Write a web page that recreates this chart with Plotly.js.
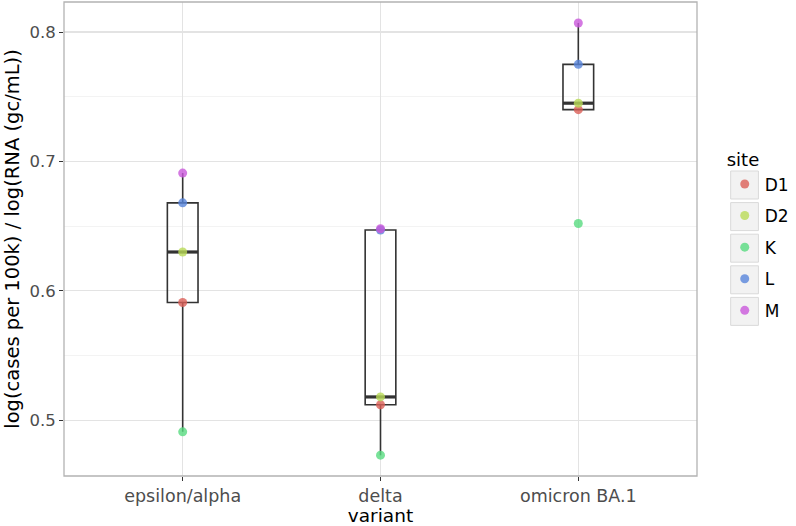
<!DOCTYPE html>
<html>
<head>
<meta charset="utf-8">
<script src="https://cdn.plot.ly/plotly-3.0.1.min.js"></script>
<style>html,body{margin:0;padding:0;background:#fff;}#chart{width:796px;height:526px;}</style>
</head>
<body>
<div id="chart"></div>
<script>
// ---- data ----
var variants = ['epsilon/alpha', 'delta', 'omicron BA.1'];
var sites = ['D1', 'D2', 'K', 'L', 'M'];
var siteColors = ['#db5f57', '#b9db57', '#57db80', '#5784db', '#c957db'];
var valD1 = [0.591, 0.512, 0.740];
var valD2 = [0.630, 0.518, 0.745];
var valK  = [0.491, 0.473, 0.652];
var valL  = [0.668, 0.647, 0.775];
var valM  = [0.691, 0.648, 0.807];
var yTicks = [0.5, 0.6, 0.7, 0.8];
var yTickLabels = ['0.5', '0.6', '0.7', '0.8'];

var siteValues = [valD1, valD2, valK, valL, valM];

// ---- layout helpers (pixel -> paper) ----
var W = 796, H = 526;
var M = {l: 64, r: 93, t: 2, b: 50};
var PW = W - M.l - M.r, PH = H - M.t - M.b;
function px(x) { return (x - M.l) / PW; }
function py(y) { return (H - M.b - y) / PH; }
var BOX_W = 0.155;

// box trace gathers all points
var boxX = [], boxY = [];
siteValues.forEach(function (vals) {
  vals.forEach(function (v, i) { boxX.push(variants[i]); boxY.push(v); });
});

// medians (derived from the data) for the thicker median bar, like ggplot
var medX = [], medY = [];
variants.forEach(function (vname, i) {
  var col = siteValues.map(function (vals) { return vals[i]; }).sort(function (a, b) { return a - b; });
  var n = col.length;
  var med = n % 2 ? col[(n - 1) / 2] : (col[n / 2 - 1] + col[n / 2]) / 2;
  medX.push(i - BOX_W / 2, i + BOX_W / 2, null);
  medY.push(med, med, null);
});

var traces = [{
  type: 'box',
  x: boxX, y: boxY,
  xaxis: 'x', yaxis: 'y',
  boxpoints: 'outliers',
  marker: {color: 'rgba(0,0,0,0)', size: 1, line: {width: 0}},
  quartilemethod: 'inclusive',
  fillcolor: 'rgba(255,255,255,0)',
  line: {color: '#333333', width: 1.6},
  whiskerwidth: 0,
  width: BOX_W,
  showlegend: false,
  hoverinfo: 'skip'
}, {
  type: 'scatter', mode: 'lines',
  x: medX, y: medY,
  xaxis: 'x2', yaxis: 'y',
  line: {color: '#333333', width: 3.2},
  showlegend: false, hoverinfo: 'skip', connectgaps: false
}];

sites.forEach(function (s, k) {
  traces.push({
    type: 'scatter', mode: 'markers',
    x: variants, y: siteValues[k],
    xaxis: 'x3', yaxis: 'y',
    name: s,
    legendgroup: s,
    marker: {color: siteColors[k], size: 9, opacity: 0.8},
    cliponaxis: false
  });
});

var keyShapes = [];
for (var k = 0; k < sites.length; k++) {
  var keyTop = 171 + k * 31.6;
  keyShapes.push({
    type: 'rect', xref: 'paper', yref: 'paper', layer: 'above',
    x0: px(737), x1: px(765), y0: py(keyTop), y1: py(keyTop + 28),
    fillcolor: '#f2f2f2', line: {color: '#d9d9d9', width: 1}
  });
}

var layout = {
  width: W, height: H,
  margin: M,
  paper_bgcolor: '#ffffff',
  plot_bgcolor: '#ffffff',
  font: {family: 'DejaVu Sans, sans-serif', color: '#4d4d4d', size: 16},
  xaxis: {
    type: 'category',
    categoryorder: 'array', categoryarray: variants,
    range: [-0.6, 2.6],
    showgrid: true, gridcolor: '#e3e3e3', gridwidth: 1.2,
    zeroline: false,
    showline: false,
    ticks: 'outside', ticklen: 4, tickcolor: '#333333', tickwidth: 1,
    tickfont: {size: 17.5, color: '#4d4d4d'},
    title: {text: 'variant', font: {size: 18.5, color: '#000000'}, standoff: 3},
    automargin: false
  },
  xaxis2: {
    overlaying: 'x', anchor: 'y',
    type: 'linear', range: [-0.6, 2.6],
    visible: false, showgrid: false, zeroline: false
  },
  xaxis3: {
    overlaying: 'x', anchor: 'y',
    type: 'category', categoryorder: 'array', categoryarray: variants,
    range: [-0.6, 2.6],
    visible: false, showgrid: false, zeroline: false
  },
  yaxis: {
    range: [0.4569, 0.8232],
    tickvals: yTicks, ticktext: yTickLabels,
    showgrid: true, gridcolor: '#e3e3e3', gridwidth: 1.2,
    minor: {dtick: 0.05, tick0: 0.45, showgrid: true, gridcolor: '#f0f0f0', gridwidth: 0.8, ticks: ''},
    zeroline: false,
    showline: false,
    ticks: 'outside', ticklen: 4, tickcolor: '#333333', tickwidth: 1,
    tickfont: {size: 16.5, color: '#4d4d4d'},
    title: {text: 'log(cases per 100k) / log(RNA (gc/mL))', font: {size: 19.5, color: '#000000'}, standoff: 4},
    automargin: false
  },
  shapes: keyShapes.concat([{
    type: 'rect', xref: 'paper', yref: 'paper', layer: 'above',
    x0: 0, x1: 1, y0: 0, y1: 1,
    line: {color: '#b3b3b3', width: 1.3}
  }]),
  showlegend: true,
  legend: {
    x: px(731), xanchor: 'left',
    y: py(143), yanchor: 'top',
    bgcolor: 'rgba(0,0,0,0)',
    font: {size: 17, color: '#000000'},
    title: {text: 'site', font: {size: 18, color: '#000000'}},
    traceorder: 'grouped',
    tracegroupgap: 6.5,
    itemwidth: 30
  }
};

Plotly.newPlot('chart', traces, layout, {displayModeBar: false, staticPlot: true});
</script>
</body>
</html>
